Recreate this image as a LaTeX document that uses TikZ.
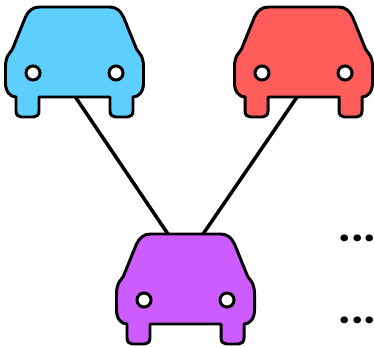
\documentclass[tikz,border=0pt]{standalone}
\usepackage{fontspec}
\newfontfamily\dotfont[LetterSpace=6]{Poppins}
\usepackage{tikz}
\definecolor{carblue}{HTML}{5CCFFF}
\definecolor{carred}{HTML}{FF5C5C}
\definecolor{carpurple}{HTML}{CC5CFF}
\tikzset{
link/.style={line width=2pt, black},
ellipsis/.style={font=\fontsize{21}{24}\dotfont\bfseries, inner sep=0pt, anchor=base east},
light/.style={draw, line width=1.7pt, fill=white, circle, minimum size=8pt, inner sep=0pt},
car/.pic={
    % body, drawn from the top left corner clockwise
    \draw[line width=1.7pt, fill=#1, line join=round]
        (-35,0) -- (35,0)
        .. controls (42,0) and (46,4) .. (49,10) -- (62,42)
        .. controls (64,46) and (69,48) .. (69,60) -- (69,76)
        .. controls (69,85) and (64,90) .. (58.5,90) -- (58.5,104)
        .. controls (58.5,108) and (56,110) .. (53,110) -- (41,110)
        .. controls (38,110) and (35.5,108) .. (35.5,104) -- (35.5,90) -- (-35.5,90) -- (-35.5,104)
        .. controls (-35.5,108) and (-38,110) .. (-41,110) -- (-53,110)
        .. controls (-56,110) and (-58.5,108) .. (-58.5,104) -- (-58.5,90)
        .. controls (-64,90) and (-69,85) .. (-69,76) -- (-69,60)
        .. controls (-69,48) and (-64,46) .. (-62,42) -- (-49,10)
        .. controls (-46,4) and (-42,0) .. (-35,0) -- cycle;
    % lights
    \node[light] (-lightl) at (-41.5,66) {};
    \node[light] (-lightr) at (41.5,66) {};
    \coordinate (-roof) at (0,0);
    \coordinate (-bottom) at (0,90);
},
}
\begin{document}
\begin{tikzpicture}[x=0.02cm, y=-0.02cm]
    \useasboundingbox (0,0) rectangle (374,347);

    \pic (blue) at (74.5,7) {car=carblue};
    \pic (red) at (303.5,7) {car=carred};
    \pic (purple) at (185.5,234) {car=carpurple};

    \draw[link] ([xshift=0.5pt]blue-bottom) -- ([xshift=-10pt]purple-roof);
    \draw[link] ([xshift=-3.7pt]red-bottom) -- ([xshift=10pt]purple-roof);

    \node[ellipsis] (dotsa) at (372,241) {...\kern-2pt};
    \node[ellipsis] (dotsb) at (372,323) {...\kern-2pt};
\end{tikzpicture}
\end{document}
